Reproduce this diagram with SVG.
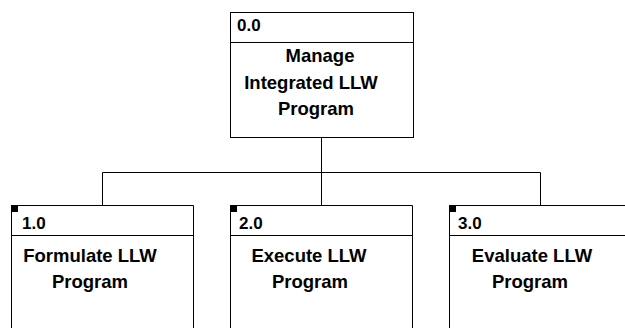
<svg xmlns="http://www.w3.org/2000/svg" width="625" height="328" viewBox="0 0 625 328">
<style>
.box{fill:#fff;stroke:#000;stroke-width:1}
.hd{stroke:#000;stroke-width:1}
.con{fill:none;stroke:#000;stroke-width:1}
.mk{fill:#000}
.num{font-family:"Liberation Sans",Arial,sans-serif;font-weight:bold;font-size:17px;fill:#000}
.txt{font-family:"Liberation Sans",Arial,sans-serif;font-weight:bold;font-size:18.5px;fill:#000;text-anchor:middle}
</style>
<rect width="625" height="328" fill="#fff"/>
<g id="connectors">
<path class="con" d="M321.5 137.5V172.5M102.5 172.5H540.5M102.5 172.5V205.5M321.5 172.5V205.5M540.5 172.5V205.5"/>
</g>
<g id="node-0">
<rect class="box" x="230.5" y="12.5" width="183" height="125"/>
<line class="hd" x1="230.5" y1="42.5" x2="413.5" y2="42.5"/>
<text class="num" x="237" y="31">0.0</text>
<text class="txt" x="320" y="62">Manage</text>
<text class="txt" x="311" y="89">Integrated LLW</text>
<text class="txt" x="316" y="115">Program</text>
</g>
<g id="node-1">
<path class="box" d="M11.5 330V205.5H193.5V330"/>
<line class="hd" x1="11.5" y1="235.5" x2="193.5" y2="235.5"/>
<rect class="mk" x="11" y="205" width="7" height="7"/>
<text class="num" x="22" y="229">1.0</text>
<text class="txt" x="90" y="262">Formulate LLW</text>
<text class="txt" x="90" y="288">Program</text>
</g>
<g id="node-2">
<path class="box" d="M230.5 330V205.5H412.5V330"/>
<line class="hd" x1="230.5" y1="235.5" x2="412.5" y2="235.5"/>
<rect class="mk" x="230" y="205" width="7" height="7"/>
<text class="num" x="239" y="229">2.0</text>
<text class="txt" x="309" y="262">Execute LLW</text>
<text class="txt" x="310" y="288">Program</text>
</g>
<g id="node-3">
<path class="box" d="M449.5 330V205.5H630"/>
<line class="hd" x1="449.5" y1="235.5" x2="630" y2="235.5"/>
<rect class="mk" x="449" y="205" width="7" height="7"/>
<text class="num" x="458" y="229">3.0</text>
<text class="txt" x="532" y="262">Evaluate LLW</text>
<text class="txt" x="530" y="288">Program</text>
</g>
</svg>
